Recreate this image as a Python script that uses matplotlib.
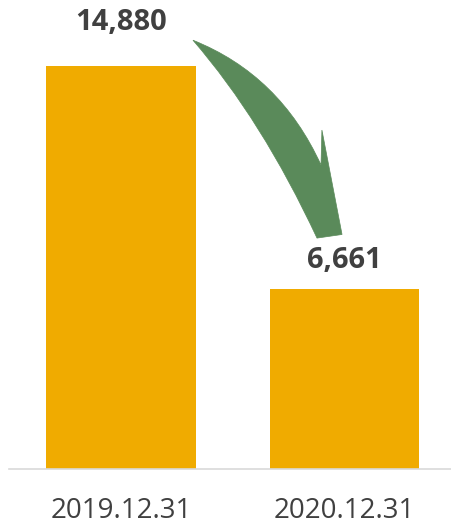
import matplotlib.pyplot as plt
from matplotlib.path import Path
from matplotlib.patches import PathPatch

dates = ['2019.12.31', '2020.12.31']
values = [14880, 6661]
label_gap = [1600, 1050]

bar_color = '#F0AB00'
text_color = '#404040'
arrow_color = '#5A8A5A'

plt.rcParams['font.family'] = ['Open Sans', 'DejaVu Sans']

fig = plt.figure(figsize=(4.52, 5.26), dpi=100)
ax = fig.add_axes([9 / 452, 57 / 526, 443 / 452, 469 / 526])

x = list(range(len(dates)))
ax.bar(x, values, width=0.67, color=bar_color, zorder=2)

for xi, v, gap in zip(x, values, label_gap):
    ax.text(xi, v + gap, f'{v:,}', ha='center', va='center',
            fontsize=21, fontweight='bold', color=text_color)

ax.set_xlim(-0.501, 1.481)
ax.set_ylim(0, 17317)

ax.set_xticks(x)
ax.set_xticklabels(dates, fontsize=20, color=text_color)
ax.tick_params(axis='x', length=0, pad=20)
ax.set_yticks([])

for side in ['top', 'right', 'left']:
    ax.spines[side].set_visible(False)
ax.spines['bottom'].set_color('#D9D9D9')
ax.spines['bottom'].set_linewidth(1.2)

# curved arrow from the first label down towards the second one:
# pointed tail, widening body, a barb on the outer side and a flat end
start = (0.322, values[0] * 1.064)
end_left = (0.877, values[1] * 1.28)
end_right = (0.989, values[1] * 1.30)
notch = (0.895, values[1] * 1.685)
barb = (0.899, values[1] * 1.879)
ctrl_outer = (0.711, values[0] * 0.978)
ctrl_inner = (0.631, values[0] * 0.866)

verts = [start, ctrl_outer, notch, barb, end_right, end_left,
         ctrl_inner, start, start]
codes = [Path.MOVETO, Path.CURVE3, Path.CURVE3, Path.LINETO, Path.LINETO,
         Path.LINETO, Path.CURVE3, Path.CURVE3, Path.CLOSEPOLY]
ax.add_patch(PathPatch(Path(verts, codes), facecolor=arrow_color,
                       edgecolor=arrow_color, lw=0.5, zorder=3))

fig.savefig('out.png', dpi=100)
